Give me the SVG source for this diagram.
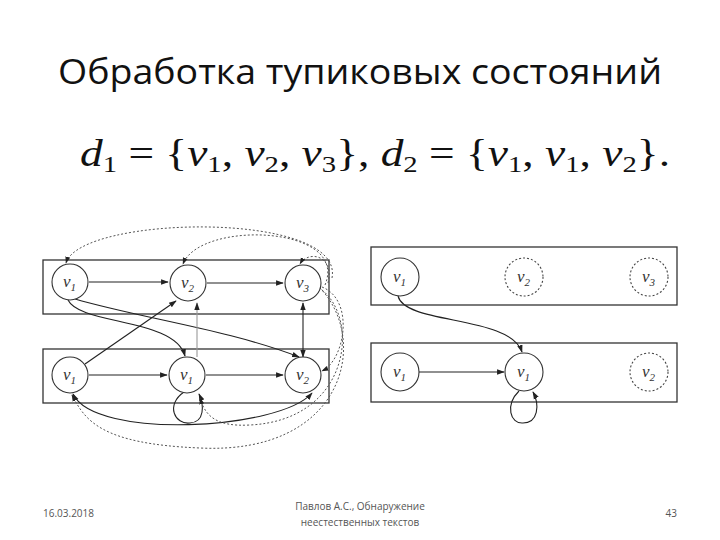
<svg xmlns="http://www.w3.org/2000/svg" width="720" height="540" viewBox="0 0 720 540">
<defs>
<marker id="a" viewBox="0 0 10 10" refX="9" refY="5" markerWidth="7" markerHeight="7" orient="auto-start-reverse"><path d="M0,1.5 L10,5 L0,8.5 z" fill="#222"/></marker>
<style>
.box{fill:none;stroke:#333;stroke-width:1.3}
.n{fill:#fff;stroke:#333;stroke-width:1.1}
.d{fill:#fff;stroke:#444;stroke-width:1.1;stroke-dasharray:2 2}
.e{fill:none;stroke:#222;stroke-width:1.1}
.g{fill:none;stroke:#999;stroke-width:1.1}
.p{fill:none;stroke:#555;stroke-width:1;stroke-dasharray:2 2}
.l{font-family:"Liberation Serif",serif;font-style:italic;font-size:17px;fill:#333}
.s{font-family:"Liberation Serif",serif;font-size:11px;fill:#333}
.f{font-family:"Open Sans","Liberation Sans",sans-serif;font-size:10px;fill:#555}
</style>
</defs>
<rect width="720" height="540" fill="#fff"/>
<text x="360" y="84" text-anchor="middle" font-family="Open Sans, Liberation Sans, sans-serif" font-size="34" fill="#111" textLength="604" lengthAdjust="spacingAndGlyphs">Обработка тупиковых состояний</text>
<text x="80" y="166" font-family="Liberation Serif, serif" font-size="38" fill="#111" textLength="590" lengthAdjust="spacingAndGlyphs"><tspan font-style="italic">d</tspan><tspan font-size="24" dy="6">1</tspan><tspan dy="-6"> = {</tspan><tspan font-style="italic">v</tspan><tspan font-size="24" dy="6">1</tspan><tspan dy="-6">, </tspan><tspan font-style="italic">v</tspan><tspan font-size="24" dy="6">2</tspan><tspan dy="-6">, </tspan><tspan font-style="italic">v</tspan><tspan font-size="24" dy="6">3</tspan><tspan dy="-6">}, </tspan><tspan font-style="italic">d</tspan><tspan font-size="24" dy="6">2</tspan><tspan dy="-6"> = {</tspan><tspan font-style="italic">v</tspan><tspan font-size="24" dy="6">1</tspan><tspan dy="-6">, </tspan><tspan font-style="italic">v</tspan><tspan font-size="24" dy="6">1</tspan><tspan dy="-6">, </tspan><tspan font-style="italic">v</tspan><tspan font-size="24" dy="6">2</tspan><tspan dy="-6">}.</tspan></text>

<g id="panels">
<rect class="box" x="43" y="260" width="286" height="54"/>
<rect class="box" x="43" y="349" width="286" height="54"/>
<rect class="box" x="371" y="247" width="306" height="58" stroke-width="1.8"/>
<rect class="box" x="371" y="343" width="306" height="59"/>
</g>

<g id="connectors">
<path class="e" d="M89,282 H168" marker-end="url(#a)"/>
<path class="e" d="M207,283 H283" marker-end="url(#a)"/>
<path class="e" d="M89,375 H167" marker-end="url(#a)"/>
<path class="e" d="M206,375 H283" marker-end="url(#a)"/>
<path class="e" d="M68,300 C80,325 175,318 185,356" marker-end="url(#a)"/>
<path class="e" d="M75,299 C140,318 230,330 299,357" marker-end="url(#a)"/>
<path class="e" d="M85,364 L176,301" marker-end="url(#a)"/>
<path class="g" d="M197,357 V303" marker-end="url(#a)"/>
<path class="e" d="M303,357 V303" marker-start="url(#a)" marker-end="url(#a)"/>
<path class="e" d="M184,392 C165,405 175,425 190,423 C205,422 204,405 199,394" marker-end="url(#a)"/>
<path class="e" d="M73,394 C95,440 280,430 312,393" marker-start="url(#a)" marker-end="url(#a)"/>
<path class="p" d="M332,278 C345,210 80,215 66,263" marker-end="url(#a)"/>
<path class="p" d="M325,285 C350,225 200,220 183,264" marker-end="url(#a)"/>
<path class="p" d="M328,283 C335,255 308,250 300,264" marker-end="url(#a)"/>
<path class="p" d="M322,287 C355,300 345,360 322,371" marker-end="url(#a)"/>
<path class="p" d="M322,290 C360,320 350,420 250,425 C215,427 205,415 200,398" marker-end="url(#a)"/>
<path class="p" d="M320,288 C370,340 345,455 200,448 C100,444 85,420 72,395" marker-end="url(#a)"/>
<path class="e" d="M398,296 C405,325 510,315 522,352" marker-end="url(#a)"/>
<path class="e" d="M419,372 H504" marker-end="url(#a)"/>
<path class="e" d="M519,391 C505,405 510,424 523,423 C538,423 540,405 533,392" marker-end="url(#a)"/>
</g>

<g id="n1"><circle class="n" cx="70" cy="282" r="18"/><text class="l" x="63" y="287">v<tspan class="s" dy="4">1</tspan></text></g>
<g id="n2"><circle class="n" cx="188" cy="283" r="18"/><text class="l" x="181" y="288">v<tspan class="s" dy="4">2</tspan></text></g>
<g id="n3"><circle class="n" cx="303" cy="283" r="18"/><text class="l" x="296" y="288">v<tspan class="s" dy="4">3</tspan></text></g>
<g id="n4"><circle class="n" cx="70" cy="375" r="18"/><text class="l" x="63" y="380">v<tspan class="s" dy="4">1</tspan></text></g>
<g id="n5"><circle class="n" cx="187" cy="375" r="18"/><text class="l" x="180" y="380">v<tspan class="s" dy="4">1</tspan></text></g>
<g id="n6"><circle class="n" cx="303" cy="375" r="18"/><text class="l" x="296" y="380">v<tspan class="s" dy="4">2</tspan></text></g>
<g id="m1"><circle class="n" cx="400" cy="277" r="19"/><text class="l" x="393" y="282">v<tspan class="s" dy="4">1</tspan></text></g>
<g id="m2"><circle class="d" cx="524" cy="277" r="19"/><text class="l" x="517" y="282">v<tspan class="s" dy="4">2</tspan></text></g>
<g id="m3"><circle class="d" cx="649" cy="277" r="19"/><text class="l" x="642" y="282">v<tspan class="s" dy="4">3</tspan></text></g>
<g id="m4"><circle class="n" cx="400" cy="372" r="19"/><text class="l" x="393" y="377">v<tspan class="s" dy="4">1</tspan></text></g>
<g id="m5"><circle class="n" cx="524" cy="372" r="19"/><text class="l" x="517" y="377">v<tspan class="s" dy="4">1</tspan></text></g>
<g id="m6"><circle class="d" cx="649" cy="372" r="19"/><text class="l" x="642" y="377">v<tspan class="s" dy="4">2</tspan></text></g>

<text class="f" x="43" y="517">16.03.2018</text>
<text class="f" x="360" y="510" text-anchor="middle">Павлов А.С., Обнаружение</text>
<text class="f" x="360" y="526" text-anchor="middle">неестественных текстов</text>
<text class="f" x="677" y="517" text-anchor="end">43</text>
</svg>
